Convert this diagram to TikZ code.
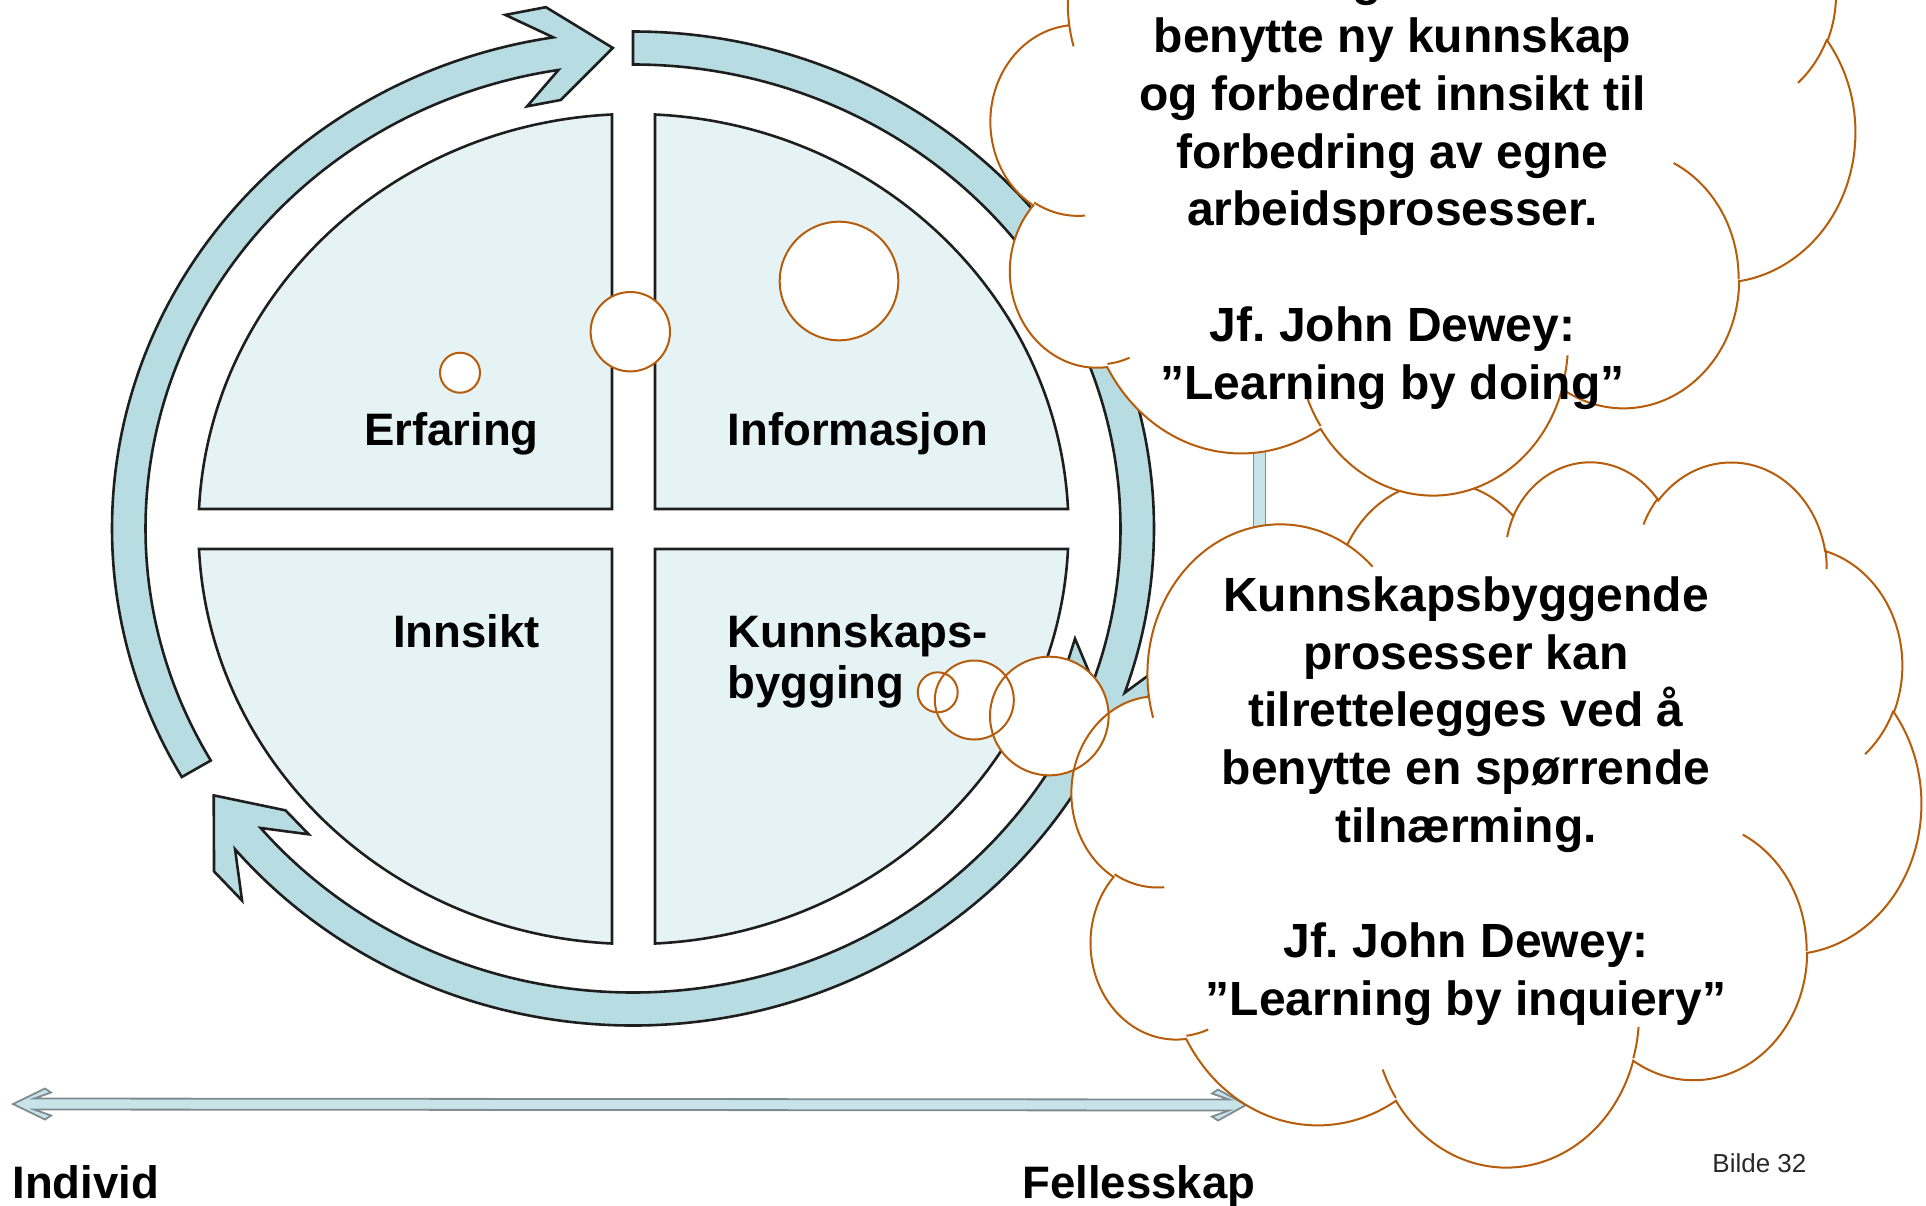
\documentclass[tikz,border=0pt]{standalone}
\usepackage{fontspec}
\setmainfont{Liberation Sans}
\frenchspacing
\usetikzlibrary{calc}
\definecolor{ringfill}{RGB}{183,221,226}
\definecolor{quadfill}{RGB}{230,243,245}
\definecolor{edgecol}{RGB}{30,30,30}
\definecolor{cloudcol}{RGB}{182,92,10}
\definecolor{axisfill}{RGB}{200,228,233}
\definecolor{axisline}{RGB}{125,140,145}
\definecolor{footcol}{RGB}{40,40,40}

\tikzset{
  quad/.style={fill=quadfill, draw=edgecol, line width=1.3pt, line join=miter},
  ringpart/.style={fill=ringfill, draw=edgecol, line width=1.3pt, line join=miter},
  axisarrow/.style={fill=axisfill, draw=axisline, line width=0.9pt, line join=miter},
  lbl/.style={font=\fontsize{22.75pt}{27pt}\selectfont\bfseries, inner sep=0pt, anchor=base},
  cloudtext/.style={font=\fontsize{24pt}{28.85pt}\selectfont\bfseries, inner sep=0pt, anchor=base},
  cloudedge/.style={draw=cloudcol, line width=1pt},
  cloud outline/.style={insert path={(9.0278,33.2639)
    arc[start angle=172.25, end angle=300.37, x radius=15.632, y radius=21.273]
    arc[start angle=-152.03, end angle=-45.44, x radius=12.345, y radius=16.822]
    arc[start angle=-153.49, end angle=-37.31, x radius=10.104, y radius=13.762]
    arc[start angle=-139.72, end angle=-10.21, x radius=11.243, y radius=15.266]
    arc[start angle=-74.77, end angle=23.21, x radius=12.345, y radius=16.836]
    arc[start angle=-37.51, end angle=81.86, x radius=15.683, y radius=21.343]
    arc[start angle=0.46, end angle=121.98, x radius=13.391, y radius=18.211]
    arc[start angle=16.84, end angle=146.22, x radius=15.630, y radius=21.331]
    arc[start angle=58.99, end angle=150.18, x radius=17.870, y radius=24.405]
    arc[start angle=83.31, end angle=223.09, x radius=10.093, y radius=13.699]
    arc[start angle=120.36, end angle=264.11, x radius=10.058, y radius=13.762]
    -- cycle}},
  cloud inner/.style={insert path={
    (10.8634,60.5949) arc[start angle=85.55, end angle=120.36, x radius=10.058, y radius=13.762]
    (16.0370,80.7847) arc[start angle=68.24, end angle=83.31, x radius=10.093, y radius=13.699]
    (38.1435,90.4861) arc[start angle=146.22, end angle=158.47, x radius=15.630, y radius=21.331]
    (66.7292,80.4421) arc[start angle=4.74, end angle=16.84, x radius=15.630, y radius=21.331]
    (79.0023,53.1343) arc[start angle=-64.03, end angle=0.46, x radius=13.391, y radius=18.211]
    (96.7546,35.5417) arc[start angle=23.21, end angle=49.64, x radius=12.345, y radius=16.836]
    (88.7130,12.5602) arc[start angle=-10.21, end angle=0.82, x radius=11.243, y radius=15.266]
    (67.3102,9.1481) arc[start angle=-156.29, end angle=-139.72, x radius=11.243, y radius=15.266]
    (51.2523,10.9259) arc[start angle=-167.73, end angle=-153.49, x radius=10.104, y radius=13.762]
    (32.4074,12.0185) arc[start angle=-59.63, end angle=-45.74, x radius=15.632, y radius=21.273]
    (9.5532,36.5486) arc[start angle=163.20, end angle=172.25, x radius=15.632, y radius=21.273]}},
}

\newcommand\ringarrow[2]{%
  \pgfmathsetmacro\rA{#2-0.3}%
  \pgfmathsetmacro\rB{#2-4.6}%
  \pgfmathsetmacro\rT{#2+6.5}%
  \path[ringpart] ($(C)+(#1:521 and 497)$)
    arc[start angle=#1, end angle=#2, x radius=521, y radius=497]
    -- ($(C)+(\rB:551 and 528)$) -- ($(C)+(\rA:551 and 528)$)
    -- ($(C)+(\rT:504 and 481)$)
    -- ($(C)+(\rA:457 and 434)$) -- ($(C)+(\rB:457 and 434)$)
    -- ($(C)+(#2:487.5 and 464)$)
    arc[start angle=#2, end angle=#1, x radius=487.5, y radius=464] -- cycle;}

\begin{document}
\begin{tikzpicture}[x=0.5pt, y=-0.5pt]
\useasboundingbox (0,0) rectangle (1926,1205);
\clip (0,0) rectangle (1926,1205);
\coordinate (C) at (633,528.5);

% quadrants
\path[quad] (612,509) -- (199,509) arc[start angle=182.76, end angle=267.17, x radius=435, y radius=415] -- cycle;
\path[quad] (655,509) -- (655,114.5) arc[start angle=272.83, end angle=357.24, x radius=435, y radius=415] -- cycle;
\path[quad] (655,549) -- (1068,549) arc[start angle=2.76, end angle=87.17, x radius=435, y radius=415] -- cycle;
\path[quad] (612,549) -- (612,943.5) arc[start angle=92.83, end angle=177.24, x radius=435, y radius=415] -- cycle;

% ring arrows
\ringarrow{150}{261.2}
\ringarrow{270}{379.3}
\ringarrow{388}{499.8}

% quadrant labels
\node[lbl] (erf) at (451.5,445) {Erfaring};
\node[lbl] (inf) at (858,445) {Informasjon};
\node[lbl] (inn) at (466.5,647.5) {Innsikt};
\node[lbl, anchor=base west] (kb1) at (727,647.5) {Kunnskaps-};
\node[lbl, anchor=base west] (kb2) at (727,698) {bygging};

% axis
\path[axisarrow] (13,1104) -- (45,1088.5) -- (51,1092.5) -- (34,1098.5) -- (1229,1099.5)
  -- (1212,1093.5) -- (1218,1089.5) -- (1246,1105) -- (1218,1120.5) -- (1212,1116.5)
  -- (1229,1110.5) -- (34,1109.5) -- (51,1115.5) -- (45,1119.5) -- cycle;
\path[axisarrow] (1253.5,430) rectangle (1265.5,570);
\node[lbl, anchor=base west] (ind) at (12,1198) {Individ};
\node[lbl, anchor=base west] (fel) at (1022,1198) {Fellesskap};
\node[font=\fontsize{13pt}{15pt}\selectfont, text=footcol, inner sep=0pt, anchor=base west] (bilde) at (1712,1172) {Bilde 32};

% lower cloud
\begin{scope}[shift={(1072,460)}, xscale=8.49, yscale=7.05]
  \fill[white] [cloud outline];
\end{scope}
\fill[white] (937.7,692.3) circle[radius=20] (974.3,700) circle[radius=39.5] (1049.3,716) circle[radius=59.3];
\begin{scope}[shift={(1072,460)}, xscale=8.49, yscale=7.05]
  \draw[cloudedge] [cloud outline];
  \draw[cloudedge] [cloud inner];
\end{scope}
\draw[cloudedge] (937.7,692.3) circle[radius=20] (974.3,700) circle[radius=39.5] (1049.3,716) circle[radius=59.3];
\node[cloudtext] (l0) at (1466,611.3) {Kunnskapsbyggende};
\node[cloudtext] (l1) at (1466,669.0) {prosesser kan};
\node[cloudtext] (l2) at (1466,726.7) {tilrettelegges ved å};
\node[cloudtext] (l3) at (1466,784.4) {benytte en spørrende};
\node[cloudtext] (l4) at (1466,842.1) {tilnærming.};
\node[cloudtext] (l6) at (1466,957.5) {Jf. John Dewey:};
\node[cloudtext] (l7) at (1466,1015.2) {”Learning by inquiery”};

% top cloud
\begin{scope}[shift={(991,-211)}, xscale=8.64, yscale=7.04]
  \fill[white] [cloud outline];
\end{scope}
\fill[white] (460,372.7) circle[radius=20] (630.3,331.7) circle[radius=39.7] (839,281) circle[radius=59.3];
\begin{scope}[shift={(991,-211)}, xscale=8.64, yscale=7.04]
  \draw[cloudedge] [cloud outline];
  \draw[cloudedge] [cloud inner];
\end{scope}
\draw[cloudedge] (460,372.7) circle[radius=20] (630.3,331.7) circle[radius=39.7] (839,281) circle[radius=59.3];
\node[cloudtext] (ucut) at (1367,-4.9) {g};
\node[cloudtext] (u0) at (1392.5,52.8) {benytte ny kunnskap};
\node[cloudtext] (u1) at (1392.5,110.5) {og forbedret innsikt til};
\node[cloudtext] (u2) at (1392.5,168.2) {forbedring av egne};
\node[cloudtext] (u3) at (1392.5,225.9) {arbeidsprosesser.};
\node[cloudtext] (u5) at (1392.5,341.3) {Jf. John Dewey:};
\node[cloudtext] (u6) at (1392.5,399.0) {”Learning by doing”};
\end{tikzpicture}
\end{document}
